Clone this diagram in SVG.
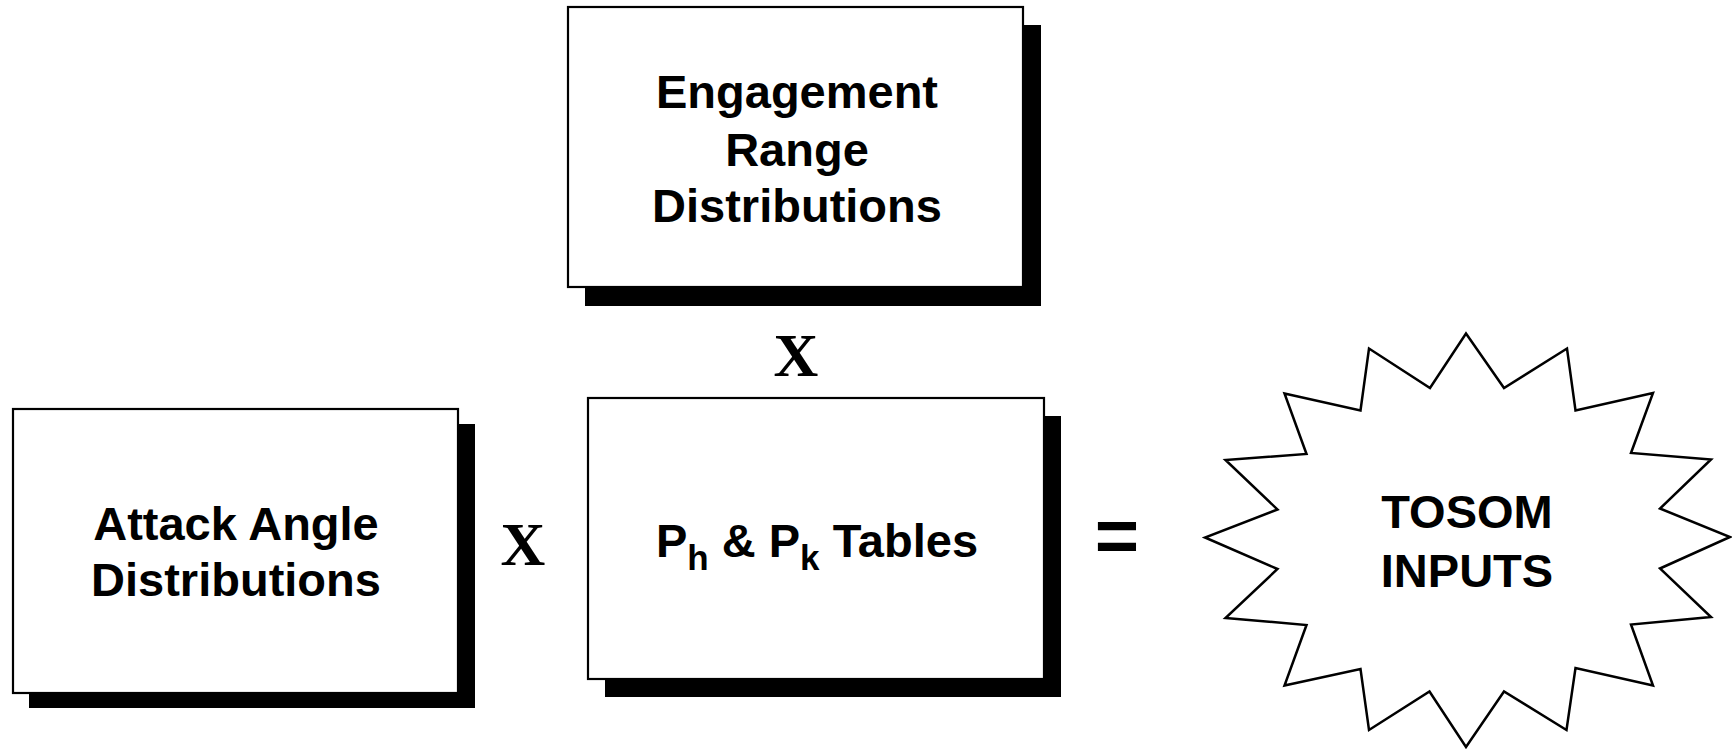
<svg xmlns="http://www.w3.org/2000/svg" width="1732" height="749" viewBox="0 0 1732 749">
<style>
.box{fill:#fff;stroke:#000;stroke-width:2.2}
.shadow{fill:#000}
.lbl{font-family:"Liberation Sans",Arial,sans-serif;font-weight:bold;font-size:47px;fill:#000;text-anchor:middle}
.op{font-family:"Liberation Serif","Times New Roman",serif;font-weight:bold;font-size:62px;fill:#000;text-anchor:middle}
.eq{font-family:"Liberation Sans",Arial,sans-serif;font-weight:bold;font-size:76px;fill:#000;text-anchor:middle}
.star{fill:#fff;stroke:#000;stroke-width:2.5;stroke-linejoin:miter;stroke-miterlimit:10}
</style>
<rect width="1732" height="749" fill="#fff"/>
<g id="engagement">
<rect class="shadow" x="585" y="25" width="456" height="281"/>
<rect class="box" x="568" y="7" width="455" height="280"/>
<text class="lbl" x="797" y="108">Engagement</text>
<text class="lbl" x="797" y="166">Range</text>
<text class="lbl" x="797" y="222">Distributions</text>
</g>
<g id="attack">
<rect class="shadow" x="29" y="424" width="446" height="284"/>
<rect class="box" x="13" y="409" width="445" height="284"/>
<text class="lbl" x="236" y="540">Attack Angle</text>
<text class="lbl" x="236" y="596">Distributions</text>
</g>
<g id="tables">
<rect class="shadow" x="605" y="416" width="456" height="281"/>
<rect class="box" x="588" y="398" width="456" height="281"/>
<text class="lbl" x="817" y="557">P<tspan font-size="35" dy="13">h</tspan><tspan dy="-13"> &amp; P</tspan><tspan font-size="35" dy="13">k</tspan><tspan dy="-13"> Tables</tspan></text>
</g>
<g id="tosom">
<polygon class="star" points="1466,333.5 1504,388 1567,348.5 1575.5,410.5 1653,393 1631,453 1711,459.5 1660,508.5 1730,537 1660,568.5 1711,617 1631,624.5 1653,685.5 1575.5,668 1566.5,730 1504,691.5 1466,747 1429.5,691.5 1369,730 1360.5,669 1284.5,685.5 1306.5,625 1225.5,618 1277.5,569 1205,537.5 1277.5,509.5 1225.5,460 1306.5,454 1284.5,393.5 1360.5,410.5 1369,348.5 1430,388"/>
<text class="lbl" x="1467" y="528">TOSOM</text>
<text class="lbl" x="1467" y="587">INPUTS</text>
</g>
<g id="connectors">
<text class="op" x="796" y="376">X</text>
<text class="op" x="523" y="565">X</text>
<text class="eq" x="1117" y="562">=</text>
</g>
</svg>
